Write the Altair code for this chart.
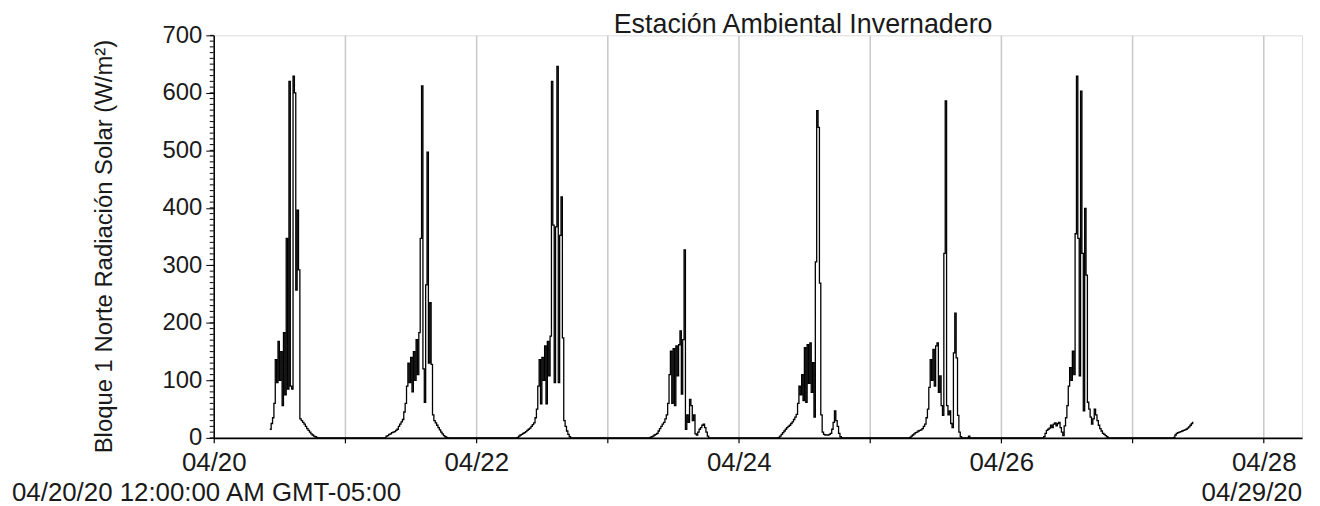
import altair as alt
import pandas as pd

# ---- data (15-minute steps, hours since 04/20 00:00) ----
day_start_hours = [10.25, 31.5, 55.5, 79.75, 103.25, 127.25, 151.75, 175.5]

day1 = [15, 25, 35, 60, 136, 96, 168, 100, 150, 56, 183, 75, 347, 85, 620, 90,
        85, 629, 600, 257, 396, 292, 33, 30, 27, 24, 20, 16, 13, 10, 7, 5, 3, 2, 1, 0]
day2 = [3, 4, 6, 7, 9, 10, 11, 13, 15, 20, 24, 28, 32, 45, 60, 90, 130, 96, 140, 80,
        150, 100, 171, 110, 183, 347, 612, 120, 62, 266, 497, 130, 235, 128, 40, 30,
        26, 22, 18, 14, 10, 7, 4, 2, 1, 0]
day3 = [1, 3, 5, 6, 8, 9, 11, 13, 15, 17, 20, 23, 26, 35, 50, 90, 136, 59, 140, 100,
        160, 59, 168, 108, 177, 620, 370, 96, 367, 646, 96, 352, 419, 174, 30, 20, 12,
        6, 2, 0]
day4 = [1, 2, 3, 5, 6, 8, 12, 16, 20, 24, 27, 33, 40, 60, 110, 151, 60, 155, 56, 160,
        108, 162, 186, 76, 171, 327, 15, 40, 27, 67, 56, 30, 40, 7, 5, 10, 15, 18, 22,
        24, 18, 10, 3, 0]
day5 = [1, 3, 6, 9, 12, 15, 18, 20, 22, 25, 28, 32, 36, 41, 60, 90, 75, 110, 65, 157,
        62, 162, 95, 165, 79, 131, 36, 306, 569, 540, 269, 40, 10, 6, 5, 5, 5, 6, 8, 15,
        27, 47, 30, 20, 8, 2, 0]
day6 = [1, 3, 5, 7, 9, 10, 12, 13, 14, 16, 20, 24, 35, 50, 88, 136, 100, 154, 90, 160,
        165, 79, 108, 56, 39, 321, 586, 56, 40, 47, 25, 18, 148, 217, 139, 39, 10, 2, 0,
        0, 0, 0, 0, 3, 0]
day7 = [2, 8, 13, 15, 17, 22, 18, 24, 26, 21, 25, 27, 18, 10, 4, 21, 35, 56, 90, 122,
        100, 151, 110, 355, 629, 347, 108, 603, 321, 47, 399, 283, 62, 50, 36, 24, 33,
        50, 40, 30, 22, 16, 12, 8, 6, 4, 2, 0]
day8 = [1, 5, 8, 9, 10, 11, 12, 13, 14, 15, 17, 19, 22, 25, 28]

days = [day1, day2, day3, day4, day5, day6, day7, day8]

x_tick_hours = [0, 24, 48, 72, 96, 120, 144, 168, 192]
y_major = [0, 100, 200, 300, 400, 500, 600, 700]
y_minor = list(range(0, 701, 10))

title_text = "Estación Ambiental Invernadero"
y_title = "Bloque 1 Norte Radiación Solar (W/m²)"
left_note = "04/20/20 12:00:00 AM GMT-05:00"
right_note = "04/29/20"

# ---- build table ----
STEP = 0.25
t0 = day_start_hours[0]
t_end = day_start_hours[-1] + (len(day8) - 1) * STEP
n = int(round((t_end - t0) / STEP)) + 1
vals = [0.0] * n
for s, d in zip(day_start_hours, days):
    k = int(round((s - t0) / STEP))
    for i, v in enumerate(d):
        vals[k + i] = v
df = pd.DataFrame({"hours": [t0 + i * STEP for i in range(n)], "value": vals})

FONT = "Liberation Sans"
TXT = "#1a1a1a"

xenc = alt.X(
    "hours:Q",
    scale=alt.Scale(domain=[0, 199], nice=False, zero=False),
    axis=alt.Axis(
        values=x_tick_hours,
        labelExpr="datum.value % 48 == 0 ? '04/' + (20 + datum.value / 24) : ''",
        grid=True, gridColor="#c8c8c8", gridWidth=1.5,
        domainColor="#000", domainWidth=1.8,
        tickColor="#000", tickSize=5, tickWidth=1.2,
        labelFont=FONT, labelFontSize=26, labelColor=TXT,
        labelPadding=7, labelFlush=False, labelOverlap=False,
        title=None,
    ),
)

yenc = alt.Y(
    "value:Q",
    scale=alt.Scale(domain=[0, 700], nice=False),
    axis=alt.Axis(
        values=y_major, grid=False,
        domainColor="#000", domainWidth=1.5,
        tickColor="#000", tickSize=8, tickWidth=1,
        labelFont=FONT, labelFontSize=24, labelColor=TXT, labelPadding=4,
        title=y_title, titleFont=FONT, titleFontSize=24, titleFontWeight="normal",
        titleColor=TXT, titleX=-110, titleY=212, titleBaseline="middle",
        titleAlign="center",
    ),
)

line = alt.Chart(df).mark_line(
    color="black", strokeWidth=1.3, interpolate="step-after"
).encode(x=xenc, y=yenc)

minor = alt.Chart(pd.DataFrame({"value": y_minor})).mark_rule(
    color="black", strokeWidth=1
).encode(y=yenc, x=alt.value(-4), x2=alt.value(0))

title_txt = alt.Chart(pd.DataFrame({"t": [title_text]})).mark_text(
    align="center", baseline="middle", font=FONT, fontSize=27, color=TXT
).encode(text="t:N", x=alt.value(593), y=alt.value(-10))

left_txt = alt.Chart(pd.DataFrame({"t": [left_note]})).mark_text(
    align="left", baseline="middle", font=FONT, fontSize=26, color=TXT
).encode(text="t:N", x=alt.value(-203), y=alt.value(460))

right_txt = alt.Chart(pd.DataFrame({"t": [right_note]})).mark_text(
    align="right", baseline="middle", font=FONT, fontSize=26, color=TXT
).encode(text="t:N", x=alt.value(1095), y=alt.value(460))

chart = alt.layer(minor, line, title_txt, left_txt, right_txt).properties(
    width=1095,
    height=405,
    autosize=alt.AutoSizeParams(type="none"),
    padding={"left": 207, "top": 26, "right": 10, "bottom": 67},
).configure_view(stroke=None).configure(background="white")

chart.save("out.html", embed_options={"renderer": "svg", "actions": False})
